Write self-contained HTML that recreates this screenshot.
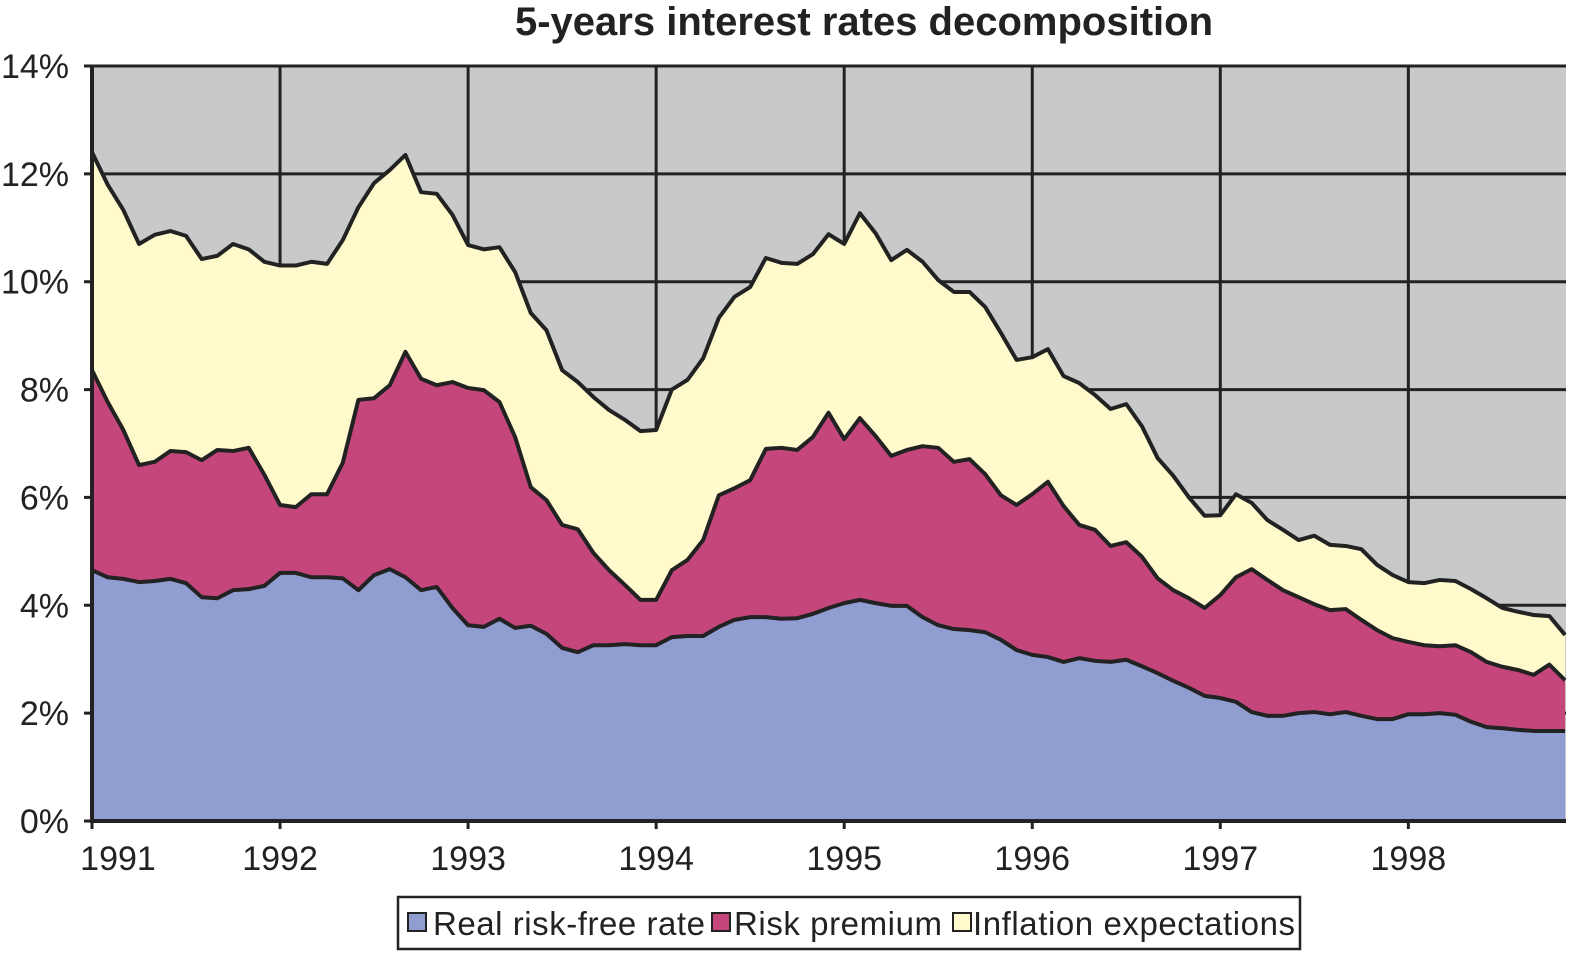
<!DOCTYPE html>
<html><head><meta charset="utf-8"><style>
body{margin:0;background:#fff;font-family:"Liberation Sans",sans-serif;}
</style></head><body>
<svg id="chart" width="1590" height="964" xmlns="http://www.w3.org/2000/svg" font-family="Liberation Sans, sans-serif">
<text x="864" y="35" text-anchor="middle" font-size="40" font-weight="bold" fill="#222">5-years interest rates decomposition</text>
<g id="plot"></g>
<g id="legend">
<rect x="398" y="897" width="902" height="52" fill="#fff" stroke="#222" stroke-width="2.5"/>
<rect x="408" y="913" width="18" height="18" fill="#8f9dd0" stroke="#222" stroke-width="2"/>
<text x="433" y="935" font-size="33" fill="#222" textLength="272">Real risk-free rate</text>
<rect x="712" y="913" width="18" height="18" fill="#c4467a" stroke="#222" stroke-width="2"/>
<text x="734" y="935" font-size="33" fill="#222" textLength="208">Risk premium</text>
<rect x="953" y="913" width="18" height="18" fill="#fefacc" stroke="#222" stroke-width="2"/>
<text x="973" y="935" font-size="33" fill="#222" textLength="322">Inflation expectations</text>
</g>
</svg>
<script>
const yTicks=[0,2,4,6,8,10,12,14];
const yearLabels=["1991","1992","1993","1994","1995","1996","1997","1998"];
const realRate=[4.65,4.52,4.49,4.43,4.45,4.49,4.41,4.15,4.13,4.28,4.3,4.36,4.6,4.6,4.52,4.52,4.5,4.28,4.56,4.67,4.52,4.28,4.34,3.95,3.63,3.6,3.75,3.58,3.62,3.47,3.21,3.13,3.26,3.26,3.28,3.26,3.26,3.41,3.43,3.43,3.6,3.73,3.78,3.78,3.75,3.76,3.84,3.95,4.04,4.1,4.04,3.99,3.99,3.78,3.63,3.56,3.54,3.5,3.36,3.17,3.08,3.04,2.95,3.02,2.97,2.95,2.99,2.87,2.74,2.6,2.47,2.32,2.28,2.21,2.02,1.95,1.95,2.0,2.02,1.98,2.02,1.95,1.89,1.89,1.98,1.98,2.0,1.97,1.84,1.74,1.72,1.69,1.67,1.67,1.67];
const realPlusRisk=[8.36,7.77,7.25,6.6,6.66,6.86,6.84,6.69,6.88,6.86,6.92,6.42,5.86,5.82,6.06,6.06,6.64,7.81,7.84,8.08,8.7,8.2,8.08,8.14,8.03,7.99,7.77,7.12,6.19,5.95,5.49,5.41,4.97,4.65,4.38,4.1,4.1,4.65,4.84,5.21,6.04,6.17,6.32,6.9,6.92,6.88,7.12,7.57,7.08,7.47,7.14,6.77,6.88,6.95,6.92,6.66,6.71,6.43,6.04,5.86,6.06,6.29,5.84,5.49,5.4,5.1,5.17,4.9,4.5,4.28,4.13,3.95,4.19,4.52,4.67,4.47,4.28,4.15,4.02,3.91,3.93,3.73,3.54,3.39,3.32,3.26,3.24,3.26,3.13,2.95,2.86,2.8,2.71,2.9,2.61];
const totalRate=[12.4,11.8,11.33,10.7,10.87,10.94,10.85,10.42,10.48,10.7,10.6,10.37,10.3,10.3,10.37,10.33,10.77,11.38,11.83,12.07,12.35,11.66,11.63,11.24,10.68,10.6,10.64,10.18,9.42,9.1,8.36,8.14,7.86,7.62,7.44,7.23,7.25,8.0,8.18,8.58,9.33,9.72,9.9,10.44,10.35,10.33,10.51,10.88,10.7,11.27,10.9,10.4,10.59,10.37,10.03,9.81,9.81,9.53,9.05,8.55,8.6,8.75,8.25,8.12,7.9,7.64,7.73,7.32,6.73,6.4,6.0,5.66,5.67,6.06,5.9,5.58,5.4,5.21,5.29,5.12,5.1,5.04,4.75,4.56,4.43,4.41,4.47,4.45,4.3,4.13,3.95,3.88,3.82,3.8,3.45];

const X0=92,X1=1566,Y0=821,Y1=66,yearPx=188.05;
const xm=i=>X0+i*yearPx/12;
const yv=v=>Y0-(v/14)*(Y0-Y1);
const NS="http://www.w3.org/2000/svg";
const plot=document.getElementById('plot');
function mk(tag,attrs){const e=document.createElementNS(NS,tag);for(const k in attrs)e.setAttribute(k,attrs[k]);plot.appendChild(e);return e;}
const bg=mk('rect',{x:X0,y:Y1,width:X1-X0,height:Y0-Y1,fill:'#c8c9cb'});


yTicks.forEach(t=>{const l=mk('line',{x1:X0-8,x2:X1,y1:yv(t),y2:yv(t),stroke:'#222','stroke-width':3});


const tx=mk('text',{x:69,y:yv(t)+12,'text-anchor':'end','font-size':34,fill:'#222'});tx.textContent=t+'%';

});
yearLabels.forEach((lab,k)=>{const x=X0+k*yearPx;const l=mk('line',{x1:x,x2:x,y1:Y1,y2:Y0+8,stroke:'#222','stroke-width':3});


const tx=mk('text',{x:Math.max(x,118),y:870,'text-anchor':'middle','font-size':34,fill:'#222'});tx.textContent=lab;

});
function area(top,bottom,fill,name){
 let d='M'+xm(0)+','+yv(top[0]);
 for(let i=1;i<top.length;i++)d+='L'+xm(i)+','+yv(top[i]);
 for(let i=top.length-1;i>=0;i--)d+='L'+xm(i)+','+yv(bottom?bottom[i]:0);
 d+='Z';
 const p=mk('path',{d:d,fill:fill,stroke:'none'});
 
 
}
function line(top,name){
 let d='M'+xm(0)+','+yv(top[0]);
 for(let i=1;i<top.length;i++)d+='L'+xm(i)+','+yv(top[i]);
 const p=mk('path',{d:d,fill:'none',stroke:'#222','stroke-width':4,'stroke-linejoin':'round'});
 
 
}
area(totalRate,realPlusRisk,'#fefacc','inflation-area');
area(realPlusRisk,realRate,'#c4467a','risk-premium-area');
area(realRate,null,'#8f9dd0','real-rate-area');
line(totalRate,'inflation-line');
line(realPlusRisk,'risk-premium-line');
line(realRate,'real-rate-line');
const ax=mk('path',{d:`M${X0},${Y1}L${X0},${Y0}L${X1},${Y0}`,fill:'none',stroke:'#222','stroke-width':4});


</script>
</body></html>
